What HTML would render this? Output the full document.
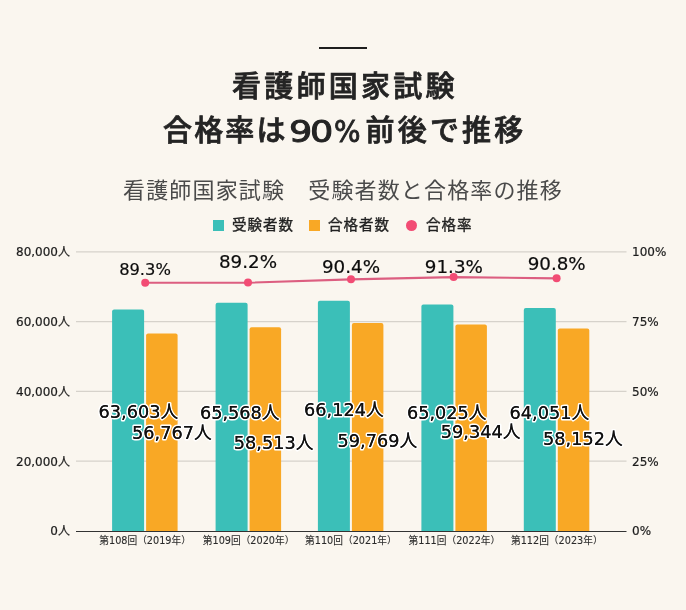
<!DOCTYPE html>
<html lang="ja"><head><meta charset="utf-8">
<style>
html,body{margin:0;padding:0;}
body{width:686px;height:610px;background:#faf6ef;position:relative;overflow:hidden;
font-family:"Liberation Sans","Noto Sans CJK JP",sans-serif;color:#222;}
.rule{position:absolute;left:319px;top:47px;width:48px;height:2px;background:#1e1e1e;}
.t1,.t2{position:absolute;left:2px;width:686px;text-align:center;font-weight:500;-webkit-text-stroke:0.75px #242424;font-size:29px;letter-spacing:3.25px;line-height:1;color:#242424;
font-family:"Noto Sans CJK JP",sans-serif;}
.t1{top:70px;}
.num{font-family:"DejaVu Sans",sans-serif;font-weight:700;}
.t2a{position:absolute;top:114.2px;font-weight:500;-webkit-text-stroke:0.75px #242424;font-size:29px;letter-spacing:2.1px;line-height:1;color:#242424;font-family:"Noto Sans CJK JP",sans-serif;white-space:nowrap;}
.dg{position:absolute;top:117.2px;font-family:"DejaVu Sans",sans-serif;font-size:30px;line-height:1;color:#242424;-webkit-text-stroke:0.9px #242424;transform:scaleX(1.22);transform-origin:0 0;}
.pc{transform:scaleX(0.93);}
.sub{position:absolute;left:0;width:686px;top:177.4px;text-align:center;font-size:22px;letter-spacing:1.15px;line-height:1;color:#4a4a4a;font-family:"Noto Sans CJK JP",sans-serif;}
.leg{position:absolute;top:216px;left:213px;height:16px;font-size:14.5px;letter-spacing:1px;line-height:16px;color:#222;-webkit-text-stroke:0.35px #222;font-family:"Noto Sans CJK JP",sans-serif;white-space:nowrap;}
.leg span{position:absolute;top:0;}
.sq{position:absolute;width:11px;height:11px;}
.chart{position:absolute;left:0;top:0;}
.wrap{position:absolute;left:0;top:0;width:686px;height:610px;will-change:transform;}
.ax{font-family:"DejaVu Sans","Noto Sans CJK JP",sans-serif;font-size:12px;fill:#1c1c1c;stroke:#1c1c1c;stroke-width:0.2px;}
.xl{font-family:"DejaVu Sans","Noto Sans CJK JP",sans-serif;font-size:9.7px;fill:#2a2a2a;stroke:#2a2a2a;stroke-width:0.1px;}
.pl{font-family:"DejaVu Sans","Noto Sans CJK JP",sans-serif;fill:#0c0c0c;stroke:#0c0c0c;stroke-width:0.2px;}
.bl2{font-family:"DejaVu Sans","Noto Sans CJK JP",sans-serif;font-size:17.7px;fill:#111;stroke:#111;stroke-width:0.05px;}
.bl{font-family:"DejaVu Sans","Noto Sans CJK JP",sans-serif;font-size:17.7px;fill:#111;stroke:#fff;stroke-width:3.1px;paint-order:stroke;stroke-linejoin:round;}
</style></head><body><div class="wrap">
<div class="rule"></div>
<div class="t1">看護師国家試験</div>
<div class="t2a" style="left:163.1px">合格率は</div><div class="dg" style="left:289.2px">9</div><div class="dg" style="left:310.3px">0</div><div class="dg pc" style="left:334.3px">%</div><div class="t2a" style="left:365.5px;letter-spacing:3.2px">前後で推移</div>
<div class="sub">看護師国家試験　受験者数と合格率の推移</div>
<div class="sq" style="left:213px;top:220px;background:#3bbfb8"></div>
<div class="leg" style="left:232px">受験者数</div>
<div class="sq" style="left:309px;top:220px;background:#f9a825"></div>
<div class="leg" style="left:328px">合格者数</div>
<div class="sq" style="left:406px;top:220px;background:#f24c74;border-radius:50%"></div>
<div class="leg" style="left:426px">合格率</div>
<svg class="chart" width="686" height="610" viewBox="0 0 686 610">
<line x1="76" y1="251.80" x2="626.5" y2="251.80" stroke="#d6d2cb" stroke-width="1.3"/><line x1="76" y1="321.60" x2="626.5" y2="321.60" stroke="#d6d2cb" stroke-width="1.3"/><line x1="76" y1="391.40" x2="626.5" y2="391.40" stroke="#d6d2cb" stroke-width="1.3"/><line x1="76" y1="461.20" x2="626.5" y2="461.20" stroke="#d6d2cb" stroke-width="1.3"/>
<path d="M112.10,531.00 V311.53 Q112.10,309.53 114.10,309.53 H142.10 Q144.10,309.53 144.10,311.53 V531.00 Z" fill="#3bbfb8"/><path d="M146.10,531.00 V335.38 Q146.10,333.38 148.10,333.38 H175.60 Q177.60,333.38 177.60,335.38 V531.00 Z" fill="#f9a825"/><path d="M215.60,531.00 V304.67 Q215.60,302.67 217.60,302.67 H245.60 Q247.60,302.67 247.60,304.67 V531.00 Z" fill="#3bbfb8"/><path d="M249.60,531.00 V329.29 Q249.60,327.29 251.60,327.29 H279.10 Q281.10,327.29 281.10,329.29 V531.00 Z" fill="#f9a825"/><path d="M317.90,531.00 V302.73 Q317.90,300.73 319.90,300.73 H347.90 Q349.90,300.73 349.90,302.73 V531.00 Z" fill="#3bbfb8"/><path d="M351.90,531.00 V324.91 Q351.90,322.91 353.90,322.91 H381.40 Q383.40,322.91 383.40,324.91 V531.00 Z" fill="#f9a825"/><path d="M421.40,531.00 V306.56 Q421.40,304.56 423.40,304.56 H451.40 Q453.40,304.56 453.40,306.56 V531.00 Z" fill="#3bbfb8"/><path d="M455.40,531.00 V326.39 Q455.40,324.39 457.40,324.39 H484.90 Q486.90,324.39 486.90,326.39 V531.00 Z" fill="#f9a825"/><path d="M523.80,531.00 V309.96 Q523.80,307.96 525.80,307.96 H553.80 Q555.80,307.96 555.80,309.96 V531.00 Z" fill="#3bbfb8"/><path d="M557.80,531.00 V330.55 Q557.80,328.55 559.80,328.55 H587.30 Q589.30,328.55 589.30,330.55 V531.00 Z" fill="#f9a825"/>
<rect x="76" y="531" width="550.5" height="1" fill="#333"/>
<text x="70" y="256.10" text-anchor="end" class="ax">80,000人</text><text x="632" y="256.10" class="ax">100%</text><text x="70" y="325.90" text-anchor="end" class="ax">60,000人</text><text x="632" y="325.90" class="ax">75%</text><text x="70" y="395.70" text-anchor="end" class="ax">40,000人</text><text x="632" y="395.70" class="ax">50%</text><text x="70" y="465.50" text-anchor="end" class="ax">20,000人</text><text x="632" y="465.50" class="ax">25%</text><text x="70" y="535.30" text-anchor="end" class="ax">0人</text><text x="632" y="535.30" class="ax">0%</text><text x="145.10" y="544" text-anchor="middle" class="xl">第108回（2019年）</text><text x="248.60" y="544" text-anchor="middle" class="xl">第109回（2020年）</text><text x="350.90" y="544" text-anchor="middle" class="xl">第110回（2021年）</text><text x="454.40" y="544" text-anchor="middle" class="xl">第111回（2022年）</text><text x="556.80" y="544" text-anchor="middle" class="xl">第112回（2023年）</text>
<polyline points="145.2,282.80 248.0,282.70 351.0,279.40 453.6,277.10 556.6,278.40" fill="none" stroke="#dc5e80" stroke-width="2.1"/><circle cx="145.2" cy="282.70" r="4" fill="#f24c74"/><circle cx="248.0" cy="282.60" r="4" fill="#f24c74"/><circle cx="351.0" cy="279.30" r="4" fill="#f24c74"/><circle cx="453.6" cy="277.00" r="4" fill="#f24c74"/><circle cx="556.6" cy="278.30" r="4" fill="#f24c74"/>
<text x="138.30" y="418.20" text-anchor="middle" class="bl">63,603人</text><text x="171.90" y="438.90" text-anchor="middle" class="bl">56,767人</text><text x="239.70" y="419.10" text-anchor="middle" class="bl">65,568人</text><text x="273.60" y="448.90" text-anchor="middle" class="bl">58,513人</text><text x="343.80" y="416.10" text-anchor="middle" class="bl">66,124人</text><text x="377.30" y="447.00" text-anchor="middle" class="bl">59,769人</text><text x="446.70" y="418.90" text-anchor="middle" class="bl">65,025人</text><text x="480.60" y="437.90" text-anchor="middle" class="bl">59,344人</text><text x="549.40" y="418.90" text-anchor="middle" class="bl">64,051人</text><text x="582.80" y="444.50" text-anchor="middle" class="bl">58,152人</text><text x="138.30" y="418.20" text-anchor="middle" class="bl2">63,603人</text><text x="171.90" y="438.90" text-anchor="middle" class="bl2">56,767人</text><text x="239.70" y="419.10" text-anchor="middle" class="bl2">65,568人</text><text x="273.60" y="448.90" text-anchor="middle" class="bl2">58,513人</text><text x="343.80" y="416.10" text-anchor="middle" class="bl2">66,124人</text><text x="377.30" y="447.00" text-anchor="middle" class="bl2">59,769人</text><text x="446.70" y="418.90" text-anchor="middle" class="bl2">65,025人</text><text x="480.60" y="437.90" text-anchor="middle" class="bl2">59,344人</text><text x="549.40" y="418.90" text-anchor="middle" class="bl2">64,051人</text><text x="582.80" y="444.50" text-anchor="middle" class="bl2">58,152人</text>
<text x="145.0" y="274.5" text-anchor="middle" class="pl" font-size="16.3">89.3%</text><text x="248.0" y="268.0" text-anchor="middle" class="pl" font-size="18.3">89.2%</text><text x="351.0" y="273.0" text-anchor="middle" class="pl" font-size="18.3">90.4%</text><text x="453.9" y="273.0" text-anchor="middle" class="pl" font-size="18.3">91.3%</text><text x="556.7" y="269.5" text-anchor="middle" class="pl" font-size="18.3">90.8%</text>
</svg>
</div></body></html>
